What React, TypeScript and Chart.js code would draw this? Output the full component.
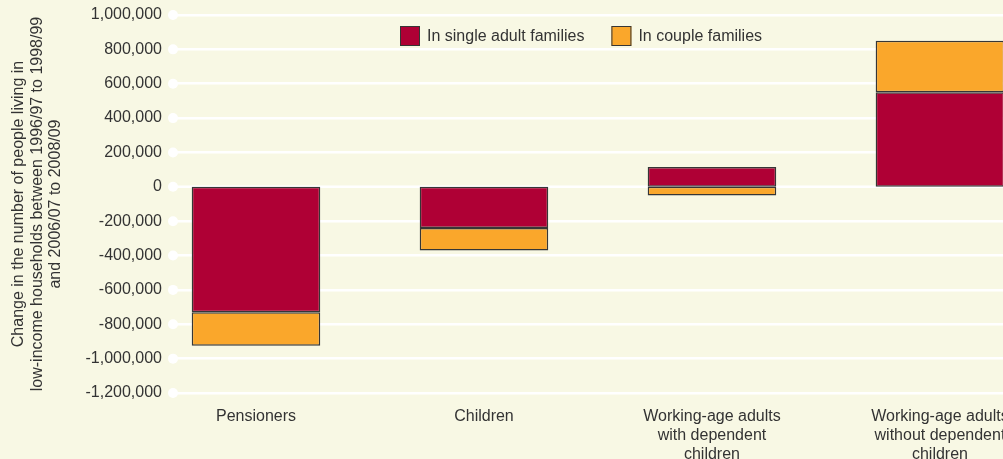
import React, { useEffect, useRef } from "react";
import { Chart, registerables } from "chart.js";

Chart.register(...registerables);

// ---- Data ----
const categories: string[][] = [
  ["Pensioners"],
  ["Children"],
  ["Working-age adults", "with dependent", "children"],
  ["Working-age adults", "without dependent", "children"],
];
const seriesLabels: string[] = ["In single adult families", "In couple families"];
const singleAdult: number[] = [-730000, -240000, 115000, 550000];
const couple: number[] = [-195000, -130000, -50000, 300000];
const yMin = -1200000;
const yMax = 1000000;
const yStep = 200000;
const yTitle: string[] = [
  "Change in the number of people living in",
  "low-income households between 1996/97 to 1998/99",
  "and 2006/07 to 2008/09",
];

// ---- Style ----
const FONT = "'Liberation Sans', Arial, Helvetica, sans-serif";
const TEXT = "#333333";
const BG = "#F8F8E4";
const CRIMSON = "#AF0035";
const ORANGE = "#FAA72B";
const BORDER = "#363636";
const GRID_W = 2.5;

const dotPlugin = {
  id: "tickDots",
  beforeDatasetsDraw(chart: any) {
    const { ctx, chartArea, scales } = chart;
    const y = scales.y;
    ctx.save();
    // zero line (kept out of the grid so bars sit directly on it)
    const p0 = y.getPixelForValue(0);
    ctx.strokeStyle = "#FFFFFF";
    ctx.lineWidth = GRID_W;
    ctx.beginPath();
    ctx.moveTo(chartArea.left, p0);
    ctx.lineTo(chartArea.right, p0);
    ctx.stroke();
    ctx.fillStyle = "#FFFFFF";
    y.ticks.forEach((t: any) => {
      const py = y.getPixelForValue(t.value);
      ctx.beginPath();
      ctx.arc(chartArea.left, py, 5, 0, Math.PI * 2);
      ctx.fill();
    });
    ctx.restore();
  },
};

const legendPlugin = {
  id: "customLegend",
  afterDraw(chart: any) {
    const ctx = chart.ctx;
    ctx.save();
    ctx.font = `16px ${FONT}`;
    ctx.textBaseline = "middle";
    ctx.textAlign = "left";
    const box = 20;
    const cy = 36;
    let x = 400;
    chart.data.datasets.forEach((ds: any) => {
      ctx.fillStyle = ds.backgroundColor;
      ctx.fillRect(x, cy - box / 2, box, box);
      ctx.strokeStyle = BORDER;
      ctx.lineWidth = 1;
      ctx.strokeRect(x + 0.5, cy - box / 2 + 0.5, box - 1, box - 1);
      ctx.fillStyle = TEXT;
      ctx.fillText(ds.label, x + box + 7, cy + 1);
      x += box + 7 + ctx.measureText(ds.label).width + 27;
    });
    ctx.restore();
  },
};

export default function App() {
  const ref = useRef<HTMLCanvasElement | null>(null);

  useEffect(() => {
    if (!ref.current) return;
    const mk = (vals: number[]) => vals.map((v, i) => ({ x: i, y: v }));
    const common = {
      borderColor: BORDER,
      borderWidth: 1.5,
      borderSkipped: false as any,
      categoryPercentage: 1,
      barPercentage: 0.564,
    };
    const chart = new Chart(ref.current, {
      type: "bar",
      data: {
        datasets: [
          { label: seriesLabels[0], data: mk(singleAdult) as any, backgroundColor: CRIMSON, ...common },
          { label: seriesLabels[1], data: mk(couple) as any, backgroundColor: ORANGE, ...common },
        ],
      },
      options: {
        animation: false,
        responsive: false,
        layout: { padding: { top: 15, left: 0, right: 0, bottom: 0 } },
        plugins: { legend: { display: false }, tooltip: { enabled: false } },
        scales: {
          x: {
            type: "linear",
            stacked: true,
            offset: false,
            min: -0.364,
            max: 3.702,
            grid: { display: false },
            border: { display: false },
            afterBuildTicks: (s: any) => {
              s.ticks = categories.map((_, i) => ({ value: i }));
            },
            afterFit: (s: any) => {
              s.height = 66;
              s.paddingLeft = 0;
              s.paddingRight = 0;
            },
            ticks: {
              autoSkip: false,
              maxRotation: 0,
              minRotation: 0,
              padding: 6,
              color: TEXT,
              font: { size: 16, family: FONT, lineHeight: 1.2 },
              callback: (v: any) => categories[Number(v)] ?? "",
            },
          },
          y: {
            stacked: true,
            min: yMin,
            max: yMax,
            grid: {
              color: "#FFFFFF",
              lineWidth: (c: any) => (c.tick && c.tick.value === 0 ? 0 : GRID_W),
              drawTicks: false,
            },
            border: { display: false },
            afterFit: (s: any) => {
              s.width = 173;
              s.paddingTop = 0;
              s.paddingBottom = 0;
            },
            ticks: {
              stepSize: yStep,
              padding: 11,
              color: TEXT,
              font: { size: 16, family: FONT },
              callback: (v: any) => Number(v).toLocaleString("en-US"),
            },
            title: {
              display: true,
              text: yTitle,
              color: TEXT,
              font: { size: 16, family: FONT, lineHeight: 1.15 },
              padding: { top: 9.5, bottom: 0 },
            },
          },
        },
      },
      plugins: [dotPlugin, legendPlugin],
    });
    return () => chart.destroy();
  }, []);

  return (
    <div
      style={{
        position: "fixed",
        left: 0,
        top: 0,
        width: 1003,
        height: 459,
        overflow: "hidden",
        background: BG,
      }}
    >
      <canvas ref={ref} width={1100} height={459} style={{ display: "block", width: 1100, height: 459 }} />
    </div>
  );
}
